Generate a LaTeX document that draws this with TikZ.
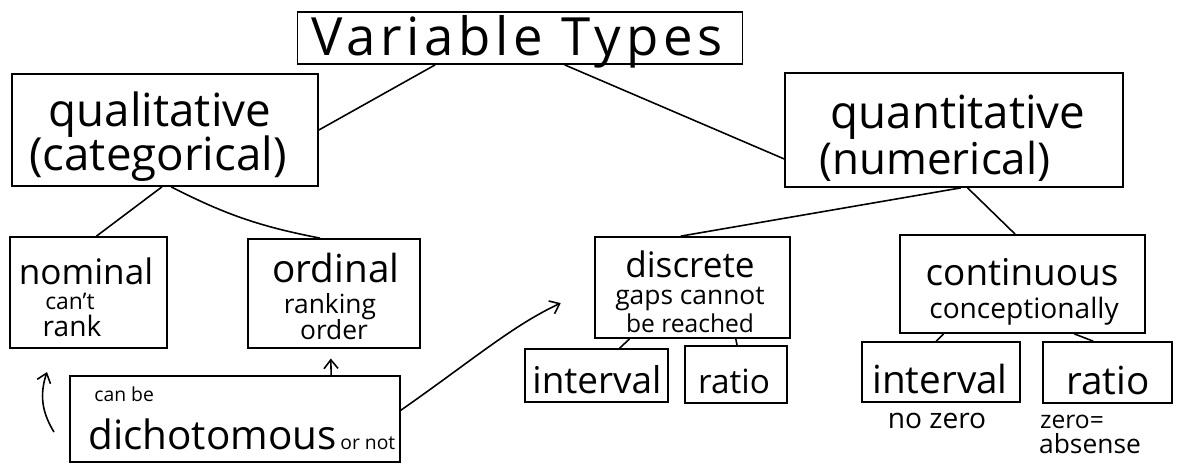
\documentclass[tikz,border=0pt]{standalone}
\usepackage{fontspec}
\setmainfont{Open Sans}
\usetikzlibrary{calc,arrows.meta}
\newcommand{\fsz}[1]{\fontsize{#1pt}{#1pt}\selectfont}
\begin{document}
\begin{tikzpicture}[x=0.02cm,y=-0.02cm,
  box/.style={draw, line width=1pt, inner sep=0pt},
  link/.style={line width=0.9pt},
  arr/.style={line width=0.9pt, -{Straight Barb[length=5pt,width=8pt]}},
  txt/.style={inner sep=0pt, anchor=base}]
\useasboundingbox (0,0) rectangle (1182,468);
% boxes
\node[box, minimum width=8.9cm, minimum height=1.04cm] (title) at (520,38) {};
\node[box, minimum width=6.12cm, minimum height=2.24cm] (qual) at (165,130) {};
\node[box, minimum width=6.76cm, minimum height=2.28cm] (quant) at (954,130) {};
\node[box, minimum width=3.14cm, minimum height=2.22cm] (nom) at (88.5,292.5) {};
\node[box, minimum width=3.44cm, minimum height=2.18cm] (ord) at (334,293.5) {};
\node[box, minimum width=6.6cm, minimum height=1.72cm] (dich) at (235,419) {};
\node[box, minimum width=3.9cm, minimum height=2.02cm] (disc) at (692.5,287.5) {};
\node[box, minimum width=2.86cm, minimum height=1.06cm] (int1) at (596.5,375.5) {};
\node[box, minimum width=2.04cm, minimum height=1.14cm] (rat1) at (736,374.5) {};
\node[box, minimum width=4.9cm, minimum height=1.96cm] (cont) at (1022.5,284) {};
\node[box, minimum width=3.16cm, minimum height=1.2cm] (int2) at (941,372) {};
\node[box, minimum width=2.58cm, minimum height=1.22cm] (rat2) at (1107.5,372.5) {};
% texts
\node[txt] (tTitle) at (517,55) {\fsz{30}\addfontfeature{LetterSpace=9}Variable Types};
\node[txt] (tQual1) at (160,126) {\fsz{26}qualitative};
\node[txt] (tQual2) at (158,170) {\fsz{26}(categorical)};
\node[txt] (tQuant1) at (958,128) {\fsz{26}quantitative};
\node[txt] (tQuant2) at (935,174) {\fsz{25}(numerical)};
\node[txt] (tNom1) at (86,284) {\fsz{20}nominal};
\node[txt] (tNom2) at (70,309) {\fsz{13}can't};
\node[txt] (tNom3) at (72,336) {\fsz{16}rank};
\node[txt] (tOrd1) at (336,282) {\fsz{22}ordinal};
\node[txt] (tOrd2) at (330,313) {\fsz{15}ranking};
\node[txt] (tOrd3) at (334,339) {\fsz{15}order};
\node[txt, anchor=base west] (tCanBe) at (94,401) {\fsz{11}can be};
\node[txt, anchor=base west] (tDich) at (88,449) {\fsz{23}dichotomous};
\node[txt, anchor=base west] (tOrNot) at (340,449) {\fsz{11}or not};
\node[txt] (tDisc1) at (690,277) {\fsz{20}discrete};
\node[txt] (tDisc2) at (690,304) {\fsz{15}gaps cannot};
\node[txt] (tDisc3) at (690,332) {\fsz{14}be reached};
\node[txt] (tCont1) at (1022,285) {\fsz{21}continuous};
\node[txt] (tCont2) at (1024,318) {\fsz{16}conceptionally};
\node[txt] (tInt1) at (597,393) {\fsz{21}interval};
\node[txt] (tRat1) at (734,393) {\fsz{19}ratio};
\node[txt] (tInt2) at (940,393) {\fsz{22}interval};
\node[txt] (tRat2) at (1108,394) {\fsz{22}ratio};
\node[txt] (tNoZero) at (937,428) {\fsz{16}no zero};
\node[txt] (tZero) at (1072,428) {\fsz{14}zero=};
\node[txt] (tAbs) at (1090,453) {\fsz{15}absense};
% connectors
\draw[link] ($(title.south west)!0.31!(title.south east)$) -- (qual.east);
\draw[link] ($(title.south west)!0.6!(title.south east)$) -- ($(quant.south west)!0.25!(quant.north west)$);
\draw[link] ($(qual.south west)!0.49!(qual.south east)$) -- ($(nom.north west)!0.55!(nom.north east)$);
\draw[link] ($(qual.south west)!0.52!(qual.south east)$) to[bend right=8] ($(ord.north west)!0.42!(ord.north east)$);
\draw[link] ($(quant.south west)!0.52!(quant.south east)$) -- ($(disc.north west)!0.44!(disc.north east)$);
\draw[link] ($(quant.south west)!0.54!(quant.south east)$) -- ($(cont.north west)!0.47!(cont.north east)$);
\draw[link] ($(disc.south west)!0.18!(disc.south east)$) -- ($(int1.north west)!0.66!(int1.north east)$);
\draw[link] ($(disc.south west)!0.72!(disc.south east)$) -- ($(rat1.north west)!0.51!(rat1.north east)$);
\draw[link] ($(cont.south west)!0.18!(cont.south east)$) -- ($(int2.north west)!0.47!(int2.north east)$);
\draw[link] ($(cont.south west)!0.71!(cont.south east)$) -- ($(rat2.north west)!0.39!(rat2.north east)$);
% arrows
\coordinate (upA) at (54,432);
\coordinate (upB) at (47,372);
\draw[arr] (upA) to[bend left=25] (upB);
\draw[arr, shorten >=5.5pt] ($(dich.north west)!0.79!(dich.north east)$) -- ($(ord.south west)!0.48!(ord.south east)$);
\draw[arr, shorten >=21pt] ($(dich.north east)!0.4!(dich.south east)$) to[out=35, in=205] (disc.west);
\end{tikzpicture}
\end{document}
